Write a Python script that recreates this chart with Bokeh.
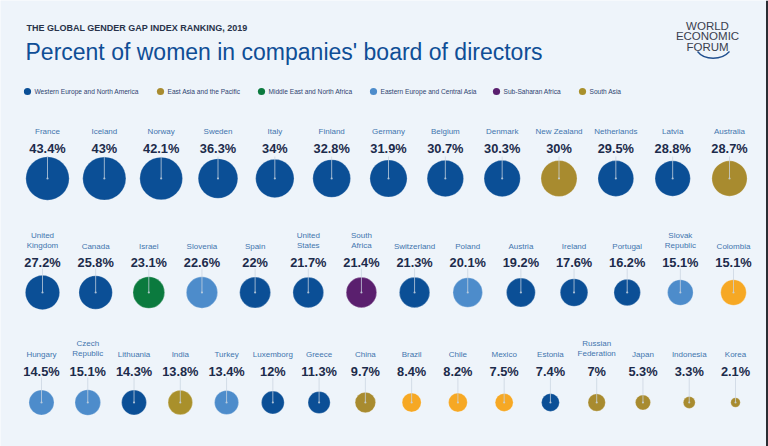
from bokeh.plotting import figure
from bokeh.models import Range1d, ColumnDataSource
from bokeh.core.properties import value
from bokeh.embed import file_html
from bokeh.resources import INLINE
import math

# ---------------- data ----------------
row1_names = ["France", "Iceland", "Norway", "Sweden", "Italy", "Finland", "Germany",
              "Belgium", "Denmark", "New Zealand", "Netherlands", "Latvia", "Australia"]
row1_values = [43.4, 43, 42.1, 36.3, 34, 32.8, 31.9, 30.7, 30.3, 30, 29.5, 28.8, 28.7]
row1_regions = ["WE", "WE", "WE", "WE", "WE", "WE", "WE", "WE", "WE", "EA", "WE", "WE", "EA"]

row2_names = ["United\nKingdom", "Canada", "Israel", "Slovenia", "Spain", "United\nStates",
              "South\nAfrica", "Switzerland", "Poland", "Austria", "Ireland", "Portugal",
              "Slovak\nRepublic", "Colombia"]
row2_values = [27.2, 25.8, 23.1, 22.6, 22, 21.7, 21.4, 21.3, 20.1, 19.2, 17.6, 16.2, 15.1, 15.1]
row2_regions = ["WE", "WE", "ME", "EE", "WE", "WE", "SS", "WE", "EE", "WE", "WE", "WE", "EE", "LA"]

row3_names = ["Hungary", "Czech\nRepublic", "Lithuania", "India", "Turkey", "Luxemborg", "Greece",
              "China", "Brazil", "Chile", "Mexico", "Estonia", "Russian\nFederation", "Japan",
              "Indonesia", "Korea"]
row3_values = [14.5, 15.1, 14.3, 13.8, 13.4, 12, 11.3, 9.7, 8.4, 8.2, 7.5, 7.4, 7, 5.3, 3.3, 2.1]
row3_regions = ["EE", "EE", "WE", "SA", "EE", "WE", "WE", "EA", "LA", "LA", "LA", "WE", "EA",
                "EA", "EA", "EA"]

legend_keys = ["WE", "EA", "ME", "EE", "SS", "SA"]
legend_labels = ["Western Europe and North America", "East Asia and the Pacific",
                 "Middle East and North Africa", "Eastern Europe and Central Asia",
                 "Sub-Saharan Africa", "South Asia"]

title = "Percent of women in companies' board of directors"
subtitle = "THE GLOBAL GENDER GAP INDEX RANKING, 2019"
logo_lines = ["WORLD", "ECONOMIC", "FORUM"]

# ---------------- styles ----------------
BG = "#EEF4FA"
COLORS = {"WE": "#0B4F96", "EA": "#A88B2F", "ME": "#0B7A3E", "EE": "#4D8CCB",
          "SS": "#5A1F6E", "SA": "#A9902B", "LA": "#F6A824"}
NAME_C = "#4274AE"
VAL_C = "#1C2B4B"
FONT = value("Liberation Sans")

W, H = 768, 446
p = figure(width=W, height=H, x_range=Range1d(0, W), y_range=Range1d(H, 0),
           output_backend="svg", toolbar_location=None, min_border=0,
           x_axis_location=None, y_axis_location=None)
p.grid.visible = False
p.outline_line_color = None
p.background_fill_color = BG
p.border_fill_color = BG

# row layout: x_first, x_last, name bottom, value baseline, stick top, circle centre
rows = [
    (row1_names, row1_values, row1_regions, 47, 729, 135, 148, 156, 178),
    (row2_names, row2_values, row2_regions, 42, 733, 250, 262, 268, 292),
    (row3_names, row3_values, row3_regions, 41, 735, 358, 371, 377, 402),
]
MAXV = 43.4
MAXR = 21.7

for names, vals, regs, x0, x1, ny, vy, sy, cy in rows:
    n = len(names)
    xs = [x0 + (x1 - x0) * i / (n - 1) for i in range(n)]
    src = ColumnDataSource(dict(
        x=xs, name=names, val=[f"{v:g}%" for v in vals],
        r=[MAXR * math.sqrt(v / MAXV) for v in vals],
        color=[COLORS[g] for g in regs],
        ny=[ny] * n, vy=[vy] * n, sy=[sy] * n, cy=[cy] * n))
    p.circle(x="x", y="cy", radius="r", source=src, fill_color="color",
             line_color="white", line_alpha=0.25, line_width=1)
    p.segment(x0="x", y0="sy", x1="x", y1="cy", source=src, line_color="#C9D4E0",
              line_alpha=0.75, line_width=1)
    p.circle(x="x", y="cy", radius=1.1, source=src, fill_color="#C9D4E0",
             line_color=None, fill_alpha=0.8)
    p.text(x="x", y="ny", text="name", source=src, text_font=FONT, text_font_size="8px",
           text_color=NAME_C, text_align="center", text_baseline="bottom",
           text_line_height=1.15)
    p.text(x="x", y="vy", text="val", source=src, text_font=FONT, text_font_size="12.8px",
           text_font_style="bold", text_color=VAL_C, text_align="center",
           text_baseline="alphabetic")

# title and subtitle
p.text(x=[26], y=[27], text=[subtitle], text_font=FONT, text_font_size="9px",
       text_font_style="bold", text_color="#28334A", text_baseline="alphabetic")
p.text(x=[25], y=[51], text=[title], text_font=FONT, text_font_size="23px",
       text_color="#0F4E96", text_baseline="alphabetic")

# legend
leg_x = [27, 160, 261, 373, 496, 582]
p.circle(x=leg_x, y=[91] * 6, radius=3.6, fill_color=[COLORS[k] for k in legend_keys],
         line_color=None)
p.text(x=[x + 7 for x in leg_x], y=[91] * 6, text=legend_labels, text_font=FONT,
       text_font_size="6.6px", text_color="#2E4470", text_baseline="middle")

# logo
p.text(x=[707] * 3, y=[25, 35.5, 46], text=logo_lines, text_font=FONT,
       text_font_size="11.5px", text_color="#3A404E", text_align="center",
       text_baseline="middle")
p.bezier(x0=[697], y0=[51], x1=[729], y1=[51], cx0=[704], cy0=[60], cx1=[721], cy1=[60],
         line_color="#1F4F8F", line_width=1.3)

# frame edge on the right, as in the source image
p.segment(x0=[766.5], y0=[0], x1=[766.5], y1=[H], line_color="#2A2D33", line_width=2)

open("out.html", "w").write(file_html(p, INLINE))
